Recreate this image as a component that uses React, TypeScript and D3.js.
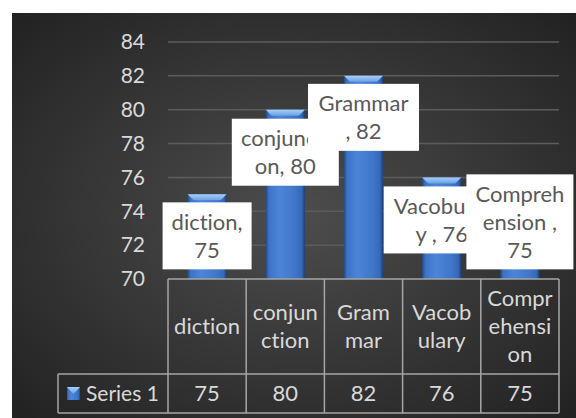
import React from "react";
import * as d3 from "d3";

// chart values
const categories = ["diction", "conjunction", "Grammar", "Vacobulary", "Comprehension"];
const values = [75, 80, 82, 76, 75];
const seriesName = "Series 1";
const yTicks = [70, 72, 74, 76, 78, 80, 82, 84];
// wrapped text as it shows in the table header
const headerLines = [["diction"], ["conjun", "ction"], ["Gram", "mar"], ["Vacob", "ulary"], ["Compr", "ehensi", "on"]];
// wrapped data label text
const labelLines = [["diction,", "75"], ["conjuncti", "on, 80"], ["Grammar", ", 82"], ["Vacobular", "y , 76"], ["Compreh", "ension ,", "75"]];

// label box layout (width, offset from bar top)
const labelBox = [
	{ w: 89, dy: 8 },
	{ w: 107, dy: 9 },
	{ w: 111, dy: 8 },
	{ w: 116, dy: 9 },
	{ w: 107, dy: -20 },
];

const FONT = "Lato, 'Noto Sans', sans-serif";

export default function App() {
	const W = 576;
	const H = 418;
	const left = 168;
	const right = 559;
	const top = 42;
	const bottom = 279;
	const headerBottom = 374;
	const tableBottom = 413;
	const rowLeft = 58;
	const lineH = 28;
	const fs = 22;

	const x = d3.scaleBand<string>().domain(categories).range([left, right]).paddingInner(0).paddingOuter(0);
	const y = d3.scaleLinear().domain([70, 84]).range([bottom, top]);
	const bw = x.bandwidth() / 2;

	return (
		<div style={{ position: "absolute", left: 0, top: 0 }}>
			<svg width={W} height={H} style={{ display: "block", fontFamily: FONT, fontVariantLigatures: "none" }}>
				<defs>
					<radialGradient id="bg" cx="50%" cy="50%" r="70%">
						<stop offset="0%" stopColor="#4d4d4d" />
						<stop offset="100%" stopColor="#222222" />
					</radialGradient>
					<linearGradient id="bar" x1="0" x2="1" y1="0" y2="0">
						<stop offset="0%" stopColor="#24497f" />
						<stop offset="8%" stopColor="#3c73c6" />
						<stop offset="35%" stopColor="#4c85d8" />
						<stop offset="75%" stopColor="#3f76c8" />
						<stop offset="92%" stopColor="#3569b8" />
						<stop offset="100%" stopColor="#203f70" />
					</linearGradient>
					<linearGradient id="cap" x1="0" x2="0" y1="0" y2="1">
						<stop offset="0%" stopColor="#a9cdf7" />
						<stop offset="100%" stopColor="#6aa1e6" />
					</linearGradient>
				</defs>

				<rect x={12} y={13} width={W - 12} height={H - 13} fill="url(#bg)" />

				{/* gridlines */}
				{yTicks.slice(1).map((t) => (
					<line key={t} x1={left} x2={right} y1={y(t)} y2={y(t)} stroke="#5c5c5c" strokeWidth={1.5} />
				))}

				{/* y tick labels */}
				{yTicks.map((t) => (
					<text key={t} x={145} y={y(t)} dy="0.35em" textAnchor="end" fill="#d9d9d9" fontSize={21}>
						{t}
					</text>
				))}

				{/* bars */}
				{categories.map((c, i) => {
					const bx = x(c)! + x.bandwidth() / 2 - bw / 2;
					const by = y(values[i]);
					const ins = 6;
					return (
						<g key={c}>
							<rect x={bx} y={by} width={bw} height={bottom - by} fill="url(#bar)" />
							<polygon
								points={`${bx},${by} ${bx + bw},${by} ${bx + bw - ins},${by + 6} ${bx + ins},${by + 6}`}
								fill="url(#cap)"
							/>
						</g>
					);
				})}

				{/* data labels */}
				{categories.map((c, i) => {
					const cx = x(c)! + x.bandwidth() / 2;
					const lines = labelLines[i];
					const h = lines.length * lineH + 11;
					const by = y(values[i]) + labelBox[i].dy;
					const w = labelBox[i].w;
					return (
						<g key={c}>
							<rect x={cx - w / 2} y={by} width={w} height={h} fill="#ffffff" />
							{lines.map((s, j) => (
								<text
									key={j}
									x={cx}
									y={by + h / 2 + (j - (lines.length - 1) / 2) * lineH}
									dy="0.35em"
									textAnchor="middle"
									fill="#595959"
									fontSize={fs}
								>
									{s}
								</text>
							))}
						</g>
					);
				})}

				{/* data table */}
				<g stroke="#a6a6a6" strokeWidth={1.5} fill="none">
					<line x1={left} x2={right} y1={bottom} y2={bottom} />
					<line x1={rowLeft} x2={right} y1={headerBottom} y2={headerBottom} />
					<line x1={rowLeft} x2={right} y1={tableBottom} y2={tableBottom} />
					<line x1={rowLeft} x2={rowLeft} y1={headerBottom} y2={tableBottom} />
					{categories.map((c) => (
						<line key={c} x1={x(c)} x2={x(c)} y1={bottom} y2={tableBottom} />
					))}
					<line x1={right} x2={right} y1={bottom} y2={tableBottom} />
				</g>

				{categories.map((c, i) => {
					const cx = x(c)! + x.bandwidth() / 2;
					const lines = headerLines[i];
					const mid = (bottom + headerBottom) / 2;
					return (
						<g key={c}>
							{lines.map((s, j) => (
								<text
									key={j}
									x={cx}
									y={mid + (j - (lines.length - 1) / 2) * lineH}
									dy="0.35em"
									textAnchor="middle"
									fill="#d9d9d9"
									fontSize={fs}
								>
									{s}
								</text>
							))}
							<text x={cx} y={(headerBottom + tableBottom) / 2} dy="0.35em" textAnchor="middle" fill="#d9d9d9" fontSize={fs}>
								{values[i]}
							</text>
						</g>
					);
				})}

				{/* legend key + series name */}
				<rect x={67} y={387} width={13} height={13} fill="url(#bar)" />
				<polygon points="67,387 80,387 73.5,394" fill="url(#cap)" />
				<text x={86} y={(headerBottom + tableBottom) / 2} dy="0.35em" fill="#d9d9d9" fontSize={21}>
					{seriesName}
				</text>
			</svg>
		</div>
	);
}
